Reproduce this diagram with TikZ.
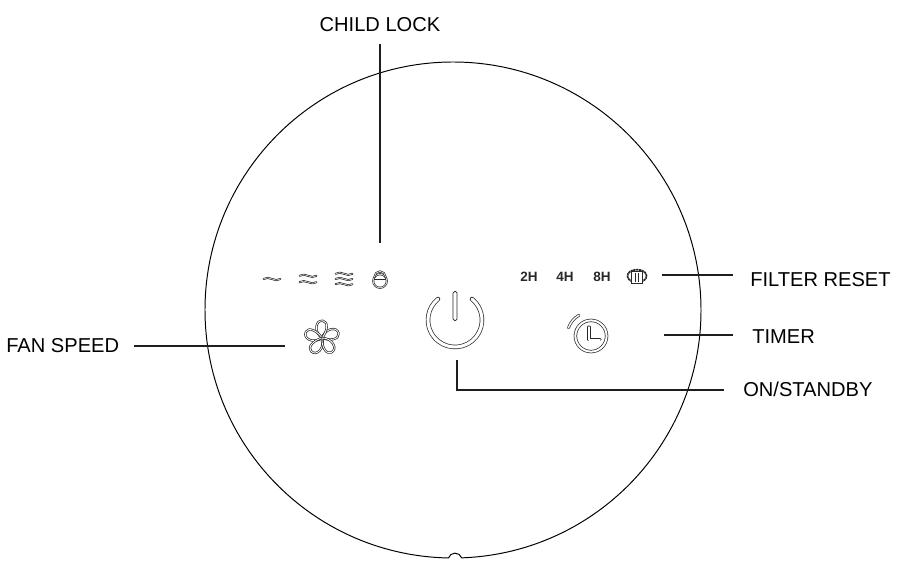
\documentclass[tikz,border=0pt]{standalone}
\usepackage{fontspec}
\setmainfont{Liberation Sans}
\usetikzlibrary{calc,positioning}
\definecolor{CLINE}{RGB}{30,30,30}
\definecolor{CICON}{RGB}{40,40,40}
\tikzset{
  leader/.style={CLINE,line width=1.8pt},
  lbl/.style={font=\fontsize{14.3}{16}\selectfont,text=black,inner sep=0pt},
  hours/.style={font=\fontsize{9.6}{11}\selectfont\bfseries,text=CICON,inner sep=0pt},
  iconline/.style={draw=CICON,line width=0.5pt,double=white,double distance=#1,line cap=round,line join=round},
  iconline/.default=0.8pt,
}

\begin{document}
\begin{tikzpicture}
  \useasboundingbox (0,0) rectangle (22.425cm,14.075cm);
  % body with notch
  \coordinate (notchr) at ($(11.325cm,6.325cm)+(-88:6.2cm)$);
  \draw[black,line width=0.7pt] (notchr) arc[start angle=-88,end angle=268.96,radius=6.2cm]
    to[out=70,in=180] ++(0.16cm,0.12cm) to[out=0,in=110] (notchr);
  % labels
  \node[lbl] (childlock) at (9.5000cm,13.4500cm) {CHILD LOCK};
  \node[lbl,anchor=west] (filterreset) at (18.7500cm,7.0800cm) {FILTER RESET};
  \node[lbl,anchor=west] (timer) at (18.8000cm,5.6500cm) {TIMER};
  \node[lbl,anchor=west] (onstandby) at (18.5750cm,4.3500cm) {ON/STANDBY};
  \node[lbl,anchor=west] (fanspeed) at (0.1500cm,5.4300cm) {FAN SPEED};
  % leaders
  \coordinate (lockend) at (9.5000cm,8.0000cm);
  \coordinate (filterstart) at (16.5500cm,7.2000cm);
  \coordinate (timerstart) at (16.6000cm,5.7000cm);
  \coordinate (onstart) at (11.4250cm,5.0750cm);
  \coordinate (oncorner) at (11.4250cm,4.3250cm);
  \coordinate (fanend) at (7.1250cm,5.4250cm);
  \draw[leader,shorten <=0.2800cm] (childlock.south) -- (lockend);
  \draw[leader,shorten >=0.4250cm] (filterstart) -- (filterstart -| filterreset.west);
  \draw[leader,shorten >=0.4750cm] (timerstart) -- (timerstart -| timer.west);
  \draw[leader,shorten >=0.4750cm,line join=miter] (onstart) -- (oncorner) -- (oncorner -| onstandby.west);
  \draw[leader,shorten <=0.3750cm] (fanend -| fanspeed.east) -- (fanend);
  % speed waves
  \foreach \wx/\wys in {6.8000/{0}, 7.7000/{-0.0800,0.0800}, 8.6000/{-0.1300,0,0.1300}} {
    \foreach \wy in \wys {
      \draw[iconline=0.35pt] (\wx cm-0.2100cm,7.1000cm+\wy cm) .. controls +(0.1300cm,0.1000cm) and +(-0.1300cm,-0.1000cm) .. +(0.4200cm,0cm);
    }
  }
  % lock
  \draw[iconline=0.4pt] (9.5000cm,7.0500cm) circle[radius=0.1700cm];
  \draw[CICON,line width=0.6pt] (9.3400cm,7.1000cm) -- (9.6600cm,7.1000cm);
  \draw[iconline=0.4pt] (9.3600cm,7.1500cm) arc[start angle=180,end angle=0,radius=0.1400cm];
  % fan
  \foreach \pang in {12,84,156,228,300} {
    \begin{scope}[shift={(8.0500cm,5.6250cm)},rotate=\pang]
      \draw[iconline=0.6pt] (0,0) .. controls (0.1200cm,0.2200cm) and (0.4400cm,0.2200cm) .. (0.4300cm,0.0200cm)
        .. controls (0.4200cm,-0.1200cm) and (0.1800cm,-0.1200cm) .. cycle;
    \end{scope}
  }
  % power
  \draw[iconline=2.2pt] (11.3750cm,6.0750cm) ++(51:0.6750cm) arc[start angle=51,end angle=-231,radius=0.6750cm];
  \draw[CICON,line width=0.5pt,rounded corners=0.0400cm,fill=white] (11.3250cm,6.7900cm) rectangle (11.4250cm,6.0600cm);
  % hours
  \node[hours] (twoh) at (13.2250cm,7.1500cm) {2H};
  \node[hours] (fourh) at (14.1250cm,7.1500cm) {4H};
  \node[hours] (eighth) at (15.0500cm,7.1500cm) {8H};
  % filter
  \draw[CICON,line width=1.2pt,dash pattern=on 1.6pt off 0.4pt] (15.9250cm,7.1750cm) ellipse[x radius=0.2400cm,y radius=0.1600cm];
  \draw[CICON,line width=0.6pt,fill=white] (15.7900cm,7.0000cm) rectangle (16.0600cm,7.2800cm);
  \foreach \fx in {15.8800,15.9700} {
    \draw[CICON,line width=0.6pt] (\fx cm,7.0200cm) -- (\fx cm,7.2600cm);
  }
  % timer
  \draw[iconline=1.4pt] (14.7750cm,5.6750cm) circle[radius=0.3900cm];
  \draw[iconline=1.2pt] (14.7250cm,5.9000cm) -- (14.7250cm,5.5800cm) -- (15.0000cm,5.5800cm);
  \draw[iconline=1pt] (14.7750cm,5.6750cm) ++(160:0.6000cm) arc[start angle=160,end angle=120,radius=0.6000cm];
\end{tikzpicture}
\end{document}
